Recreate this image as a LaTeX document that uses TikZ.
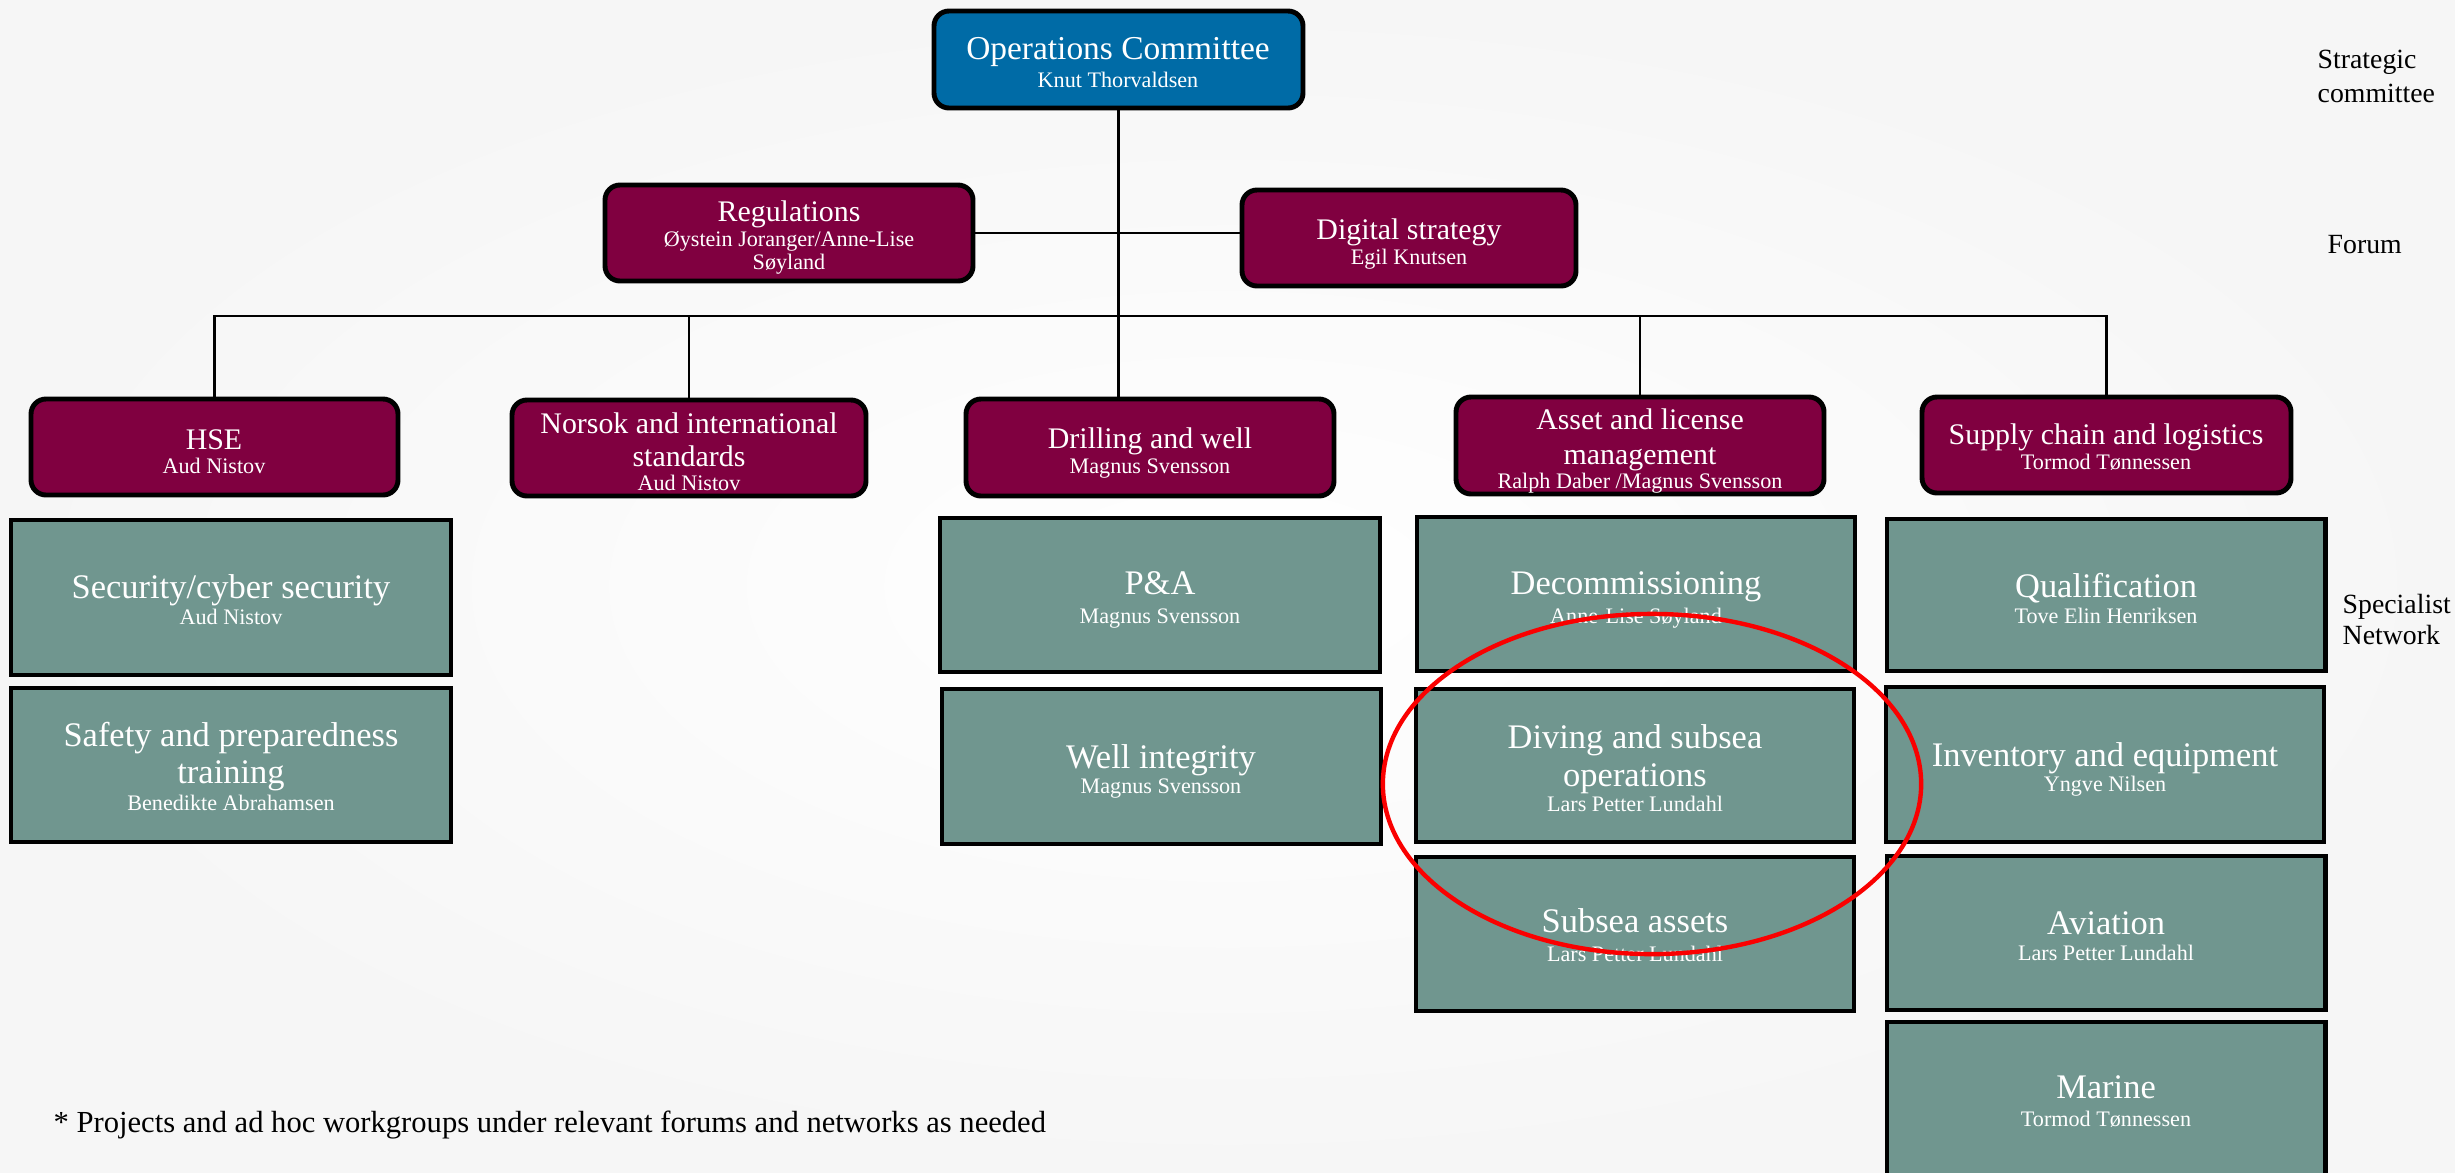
\documentclass[tikz,border=0pt]{standalone}
\usepackage{fontspec}
\setmainfont{Liberation Serif}
\usetikzlibrary{fit}
\definecolor{opsblue}{RGB}{0,107,166}
\definecolor{forumred}{RGB}{128,0,64}
\definecolor{specgreen}{RGB}{112,150,143}
\definecolor{hilite}{RGB}{250,0,0}
\begin{document}
\begin{tikzpicture}[x=0.01cm,y=-0.01cm,
  boxbase/.style={draw=black, line width=1.4pt, inner sep=0pt},
  opsbox/.style={boxbase, fill=opsblue, rounded corners=0.15cm},
  forumbox/.style={boxbase, fill=forumred, rounded corners=0.15cm},
  specbox/.style={boxbase, fill=specgreen},
  conn/.style={draw=black, line width=0.6pt},
  txtbase/.style={text=white, anchor=mid, inner sep=0pt, yshift=-0.03cm},
  opstitle/.style={txtbase, font=\fontsize{9.5}{11}\selectfont},
  ftitle/.style={txtbase, font=\fontsize{8.5}{10}\selectfont},
  stitle/.style={txtbase, font=\fontsize{9.8}{11}\selectfont},
  subtxt/.style={text=white, anchor=mid, inner sep=0pt, yshift=0.012cm, font=\fontsize{6.3}{7.5}\selectfont},
  sidelabel/.style={text=black, anchor=mid west, inner sep=0pt, yshift=-0.02cm, font=\fontsize{7.9}{9}\selectfont},
  foot/.style={text=black, anchor=mid west, inner sep=0pt, yshift=-0.02cm, font=\fontsize{8.7}{10}\selectfont}
]
\useasboundingbox (0,0) rectangle (2455,1172);
\clip (0,0) rectangle (2455,1172);
\shade[inner color=white, outer color=black!3.5] (0,0) rectangle (2455,1172);

% ---- boxes ----
\node[opsbox, fit={(934,11) (1303,108)}] (ops) {};
\node[forumbox, fit={(605,185) (973,281)}] (reg) {};
\node[forumbox, fit={(1242,190) (1576,286)}] (dig) {};
\node[forumbox, fit={(31,399) (398,495)}] (hse) {};
\node[forumbox, fit={(512,400) (866,496)}] (nor) {};
\node[forumbox, fit={(966,399) (1334,496)}] (dri) {};
\node[forumbox, fit={(1456,397) (1824,494)}] (ass) {};
\node[forumbox, fit={(1922,397) (2291,493)}] (sup) {};

\node[specbox, fit={(11,520) (451,675)}] (sec) {};
\node[specbox, fit={(11,688) (451,842)}] (saf) {};
\node[specbox, fit={(940,518) (1380,672)}] (pa) {};
\node[specbox, fit={(942,689) (1381,844)}] (wi) {};
\node[specbox, fit={(1417,517) (1855,671)}] (dec) {};
\node[specbox, fit={(1416,689) (1854,842)}] (div) {};
\node[specbox, fit={(1416,857) (1854,1011)}] (sub) {};
\node[specbox, fit={(1887,519) (2325,671)}] (qua) {};
\node[specbox, fit={(1886,687) (2324,842)}] (inv) {};
\node[specbox, fit={(1887,856) (2325,1010)}] (avi) {};
\node[specbox, fit={(1887,1022) (2325,1200)}] (mar) {};

% ---- connectors ----
\coordinate (bus) at (0,316);
\draw[conn] (ops.south) -- (ops.south |- dri.north);
\draw[conn] (reg.east) -- (reg.east -| dig.west);
\draw[conn] (hse.north) -- (hse.north |- bus) -- (sup.north |- bus) -- (sup.north);
\draw[conn] (nor.north) -- (nor.north |- bus);
\draw[conn] (ass.north) -- (ass.north |- bus);

% ---- texts ----
\node[opstitle] (ops-t) at (1118,48) {Operations Committee};
\node[subtxt] (ops-s) at (1118,81) {Knut Thorvaldsen};

\node[ftitle] (reg-t) at (789,210) {Regulations};
\node[subtxt] (reg-s1) at (789,240) {Øystein Joranger/Anne-Lise};
\node[subtxt] (reg-s2) at (789,263) {Søyland};

\node[ftitle] (dig-t) at (1409,228) {Digital strategy};
\node[subtxt] (dig-s) at (1409,258) {Egil Knutsen};

\node[ftitle] (hse-t) at (214,438) {HSE};
\node[subtxt] (hse-s) at (214,467) {Aud Nistov};

\node[ftitle] (nor-t1) at (689,422) {Norsok and international};
\node[ftitle] (nor-t2) at (689,455) {standards};
\node[subtxt] (nor-s) at (689,484) {Aud Nistov};

\node[ftitle] (dri-t) at (1150,437) {Drilling and well};
\node[subtxt] (dri-s) at (1150,467) {Magnus Svensson};

\node[ftitle] (ass-t1) at (1640,418) {Asset and license};
\node[ftitle] (ass-t2) at (1640,453) {management};
\node[subtxt] (ass-s) at (1640,482) {Ralph Daber /Magnus Svensson};

\node[ftitle] (sup-t) at (2106,433) {Supply chain and logistics};
\node[subtxt] (sup-s) at (2106,463) {Tormod Tønnessen};

\node[stitle] (sec-t) at (231,587) {Security/cyber security};
\node[subtxt] (sec-s) at (231,618) {Aud Nistov};

\node[stitle] (saf-t1) at (231,735) {Safety and preparedness};
\node[stitle] (saf-t2) at (231,772) {training};
\node[subtxt] (saf-s) at (231,804) {Benedikte Abrahamsen};

\node[stitle] (pa-t) at (1160,583) {P\&A};
\node[subtxt] (pa-s) at (1160,617) {Magnus Svensson};

\node[stitle] (wi-t) at (1161,757) {Well integrity};
\node[subtxt] (wi-s) at (1161,787) {Magnus Svensson};

\node[stitle] (dec-t) at (1636,583) {Decommissioning};
\node[subtxt] (dec-s) at (1636,617) {Anne-Lise Søyland};

\node[stitle] (div-t1) at (1635,737) {Diving and subsea};
\node[stitle] (div-t2) at (1635,775) {operations};
\node[subtxt] (div-s) at (1635,805) {Lars Petter Lundahl};

\node[stitle] (sub-t) at (1635,921) {Subsea assets};
\node[subtxt] (sub-s) at (1635,955) {Lars Petter Lundahl};

\node[stitle] (qua-t) at (2106,586) {Qualification};
\node[subtxt] (qua-s) at (2106,617) {Tove Elin Henriksen};

\node[stitle] (inv-t) at (2105,755) {Inventory and equipment};
\node[subtxt] (inv-s) at (2105,785) {Yngve Nilsen};

\node[stitle] (avi-t) at (2106,923) {Aviation};
\node[subtxt] (avi-s) at (2106,954) {Lars Petter Lundahl};

\node[stitle] (mar-t) at (2106,1087) {Marine};
\node[subtxt] (mar-s) at (2106,1120) {Tormod Tønnessen};

% ---- side labels ----
\node[sidelabel] (lab-s1) at (2317,58) {Strategic};
\node[sidelabel] (lab-s2) at (2317,92) {committee};
\node[sidelabel] (lab-f) at (2327,243) {Forum};
\node[sidelabel] (lab-n1) at (2342,603) {Specialist};
\node[sidelabel] (lab-n2) at (2342,634) {Network};

\node[foot] (footnote) at (53,1122) {* Projects and ad hoc workgroups under relevant forums and networks as needed};

% ---- highlight ----
\draw[hilite, line width=1.25pt] (1652,784) ellipse [x radius=2.69cm, y radius=1.70cm];
\end{tikzpicture}
\end{document}
